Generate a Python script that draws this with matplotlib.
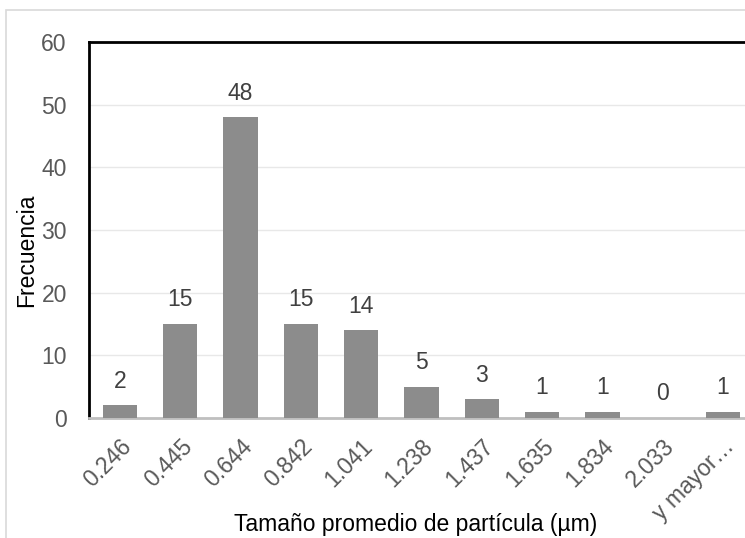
import matplotlib
matplotlib.use("Agg")
import matplotlib.pyplot as plt
from matplotlib.patches import Rectangle

plt.rcParams['font.family'] = ['Liberation Sans', 'DejaVu Sans']

categories = ["0.246", "0.445", "0.644", "0.842", "1.041", "1.238",
              "1.437", "1.635", "1.834", "2.033", "y mayor…"]
frequencies = [2, 15, 48, 15, 14, 5, 3, 1, 1, 0, 1]
y_ticks = [0, 10, 20, 30, 40, 50, 60]

W, H = 745, 538
FS = 16.5
fig = plt.figure(figsize=(W / 100, H / 100), dpi=100)

# outer chart frame
fig.patches.append(Rectangle((6 / W, -0.1), 1.2, 1.1 - 10 / H, transform=fig.transFigure,
                             fill=False, edgecolor="#d9d9d9", linewidth=1.2))

ax = fig.add_axes([89 / W, 1 - 418 / H, 1 - 89 / W, (418 - 42) / H])
x = list(range(len(categories)))
ax.bar(x, frequencies, width=0.57, color="#8c8c8c", zorder=3)

ax.set_xlim(-0.514, 10.365)
ax.set_ylim(0, 60)
ax.set_yticks(y_ticks)
ax.set_yticklabels([str(v) for v in y_ticks], fontsize=FS, color="#595959")
ax.yaxis.grid(True, color="#e8e8e8", linewidth=1, zorder=0)
ax.set_axisbelow(True)
ax.tick_params(axis="y", length=0, pad=16)
ax.tick_params(axis="x", length=0, pad=12)

ax.set_xticks(x)
ax.set_xticklabels(categories, rotation=45, ha="right", rotation_mode="anchor",
                   fontsize=FS, color="#595959")

for s in ["left", "top"]:
    ax.spines[s].set_color("black")
    ax.spines[s].set_linewidth(2)
ax.spines["right"].set_visible(False)
ax.spines["bottom"].set_color("#bfbfbf")
ax.spines["bottom"].set_linewidth(2)

for xi, v in zip(x, frequencies):
    ax.annotate(str(v), (xi, v), xytext=(0, 9), textcoords="offset points",
                ha="center", va="bottom", fontsize=FS, color="#404040")

fig.text(27 / W, 1 - 250 / H, "Frecuencia", rotation=90, ha="center", va="center",
         fontsize=FS, color="black")
fig.text(416 / W, 1 - 524 / H, "Tamaño promedio de partícula (µm)", ha="center",
         va="center", fontsize=FS, color="black")

fig.savefig("out.png", dpi=100)
